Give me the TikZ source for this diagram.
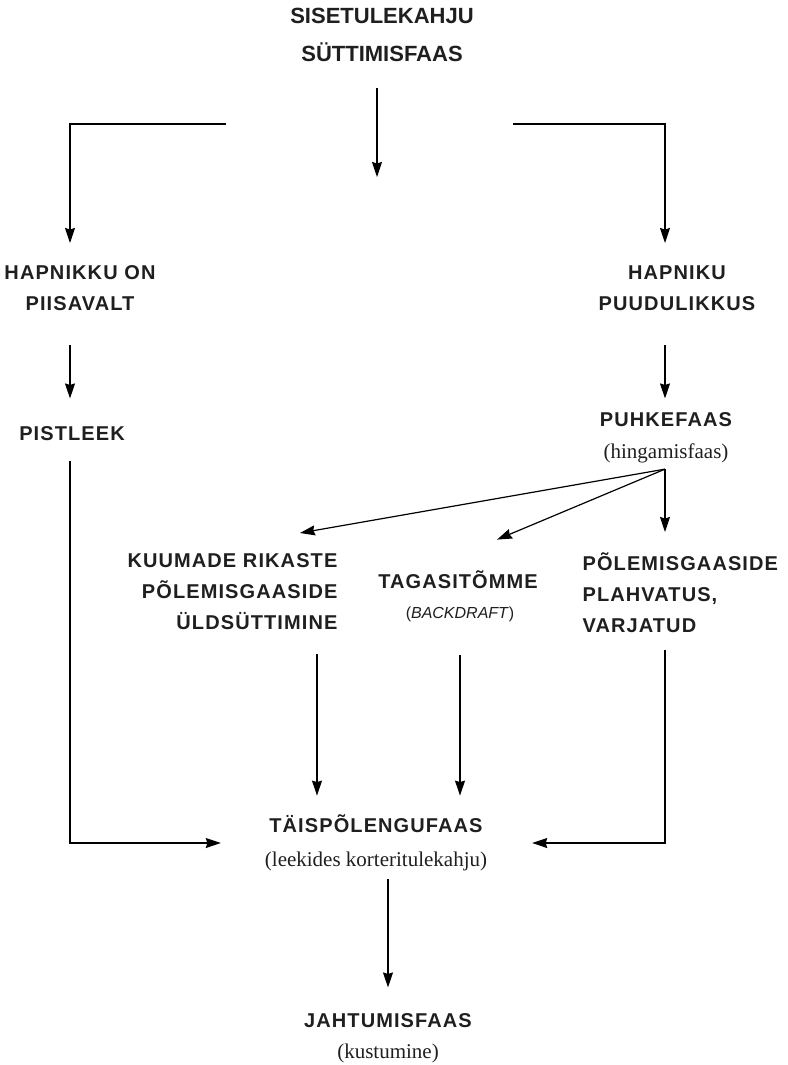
\documentclass[tikz,border=0pt]{standalone}
\usepackage{fontspec}
\setmainfont{Liberation Serif}
\setsansfont{Liberation Sans}
\usetikzlibrary{arrows.meta}

\begin{document}
\begin{tikzpicture}[x=1pt, y=-1pt, line width=1.2pt,
  >={Stealth[length=15pt, width=10pt, inset=1.5pt]},
  phase/.style={inner sep=0pt, text=black!88,
    font=\sffamily\bfseries\fontsize{20}{31}\selectfont\addfontfeature{LetterSpace=5.5}},
  toptitle/.style={inner sep=0pt, text=black!88,
    font=\sffamily\bfseries\fontsize{22}{38}\selectfont},
  note/.style={inner sep=0pt, text=black!88, font=\rmfamily\fontsize{21}{25}\selectfont}]
  \useasboundingbox (0,0) rectangle (787,1065);

  % Ignition phase and the two branches
  \node[toptitle, align=center, anchor=north] (ignite) at (382,8) {SISETULEKAHJU\\SÜTTIMISFAAS};
  \coordinate (midstop) at (377,177);
  \coordinate (splitL) at (226,124);
  \coordinate (cornerL) at (70,124);
  \coordinate (splitR) at (513,124);
  \coordinate (cornerR) at (665,124);
  \draw[->, shorten <=25pt] (ignite.south -| midstop) -- (midstop);

  \node[phase, align=center, anchor=north] (oxyok) at (80,265) {HAPNIKKU ON\\PIISAVALT};
  \node[phase, align=center, anchor=north] (oxylow) at (677,265) {HAPNIKU\\PUUDULIKKUS};
  \draw[->, shorten >=22pt] (splitL) -- (cornerL) -- (cornerL |- oxyok.north);
  \draw[->, shorten >=22pt] (splitR) -- (cornerR) -- (cornerR |- oxylow.north);

  % Flashover / smouldering
  \node[phase, anchor=base] (flash) at (72,440) {PISTLEEK};
  \node[phase, anchor=base] (puhke) at (666,426) {PUHKEFAAS};
  \node[note, anchor=base] (hinga) at (666,458) {(hingamisfaas)};
  \draw[->, shorten <=34pt, shorten >=27pt] (oxyok.south -| cornerL) -- (cornerL |- flash.north);
  \draw[->, shorten <=34pt, shorten >=13pt] (oxylow.south -| cornerR) -- (cornerR |- puhke.north);

  % Three outcomes of the smouldering phase
  \node[phase, align=right, anchor=north east] (rich) at (338,553) {KUUMADE RIKASTE\\PÕLEMISGAASIDE\\ÜLDSÜTTIMINE};
  \node[phase, anchor=base] (back) at (458,588) {TAGASITÕMME};
  \node[anchor=base, inner sep=0pt, text=black!88, font=\sffamily\fontsize{16}{19}\selectfont] (bdraft) at (460,618) {(\textit{BACKDRAFT})};
  \node[phase, align=left, anchor=north west] (plahv) at (582,552) {PÕLEMISGAASIDE\\PLAHVATUS,\\VARJATUD};
  \coordinate[yshift=-6pt] (fan) at (cornerR |- hinga.south);
  \draw[->] (fan) -- ([xshift=-38pt, yshift=20pt]rich.north east);
  \draw[->] (fan) -- ([xshift=39pt, yshift=30pt]back.north);
  \draw[->, shorten >=20pt] (fan) -- (fan |- plahv.north);

  % Fully developed fire
  \node[phase, anchor=base] (full) at (376,832) {TÄISPÕLENGUFAAS};
  \node[note, anchor=base] (leek) at (376,866) {(leekides korteritulekahju)};
  \coordinate[xshift=-21pt] (richout) at (rich.south east);
  \draw[->, shorten <=24pt, shorten >=18pt] (richout) -- (richout |- full.north);
  \draw[->, shorten <=33pt, shorten >=18pt] (bdraft.south) -- (bdraft.south |- full.north);
  \draw[->, shorten <=20pt] (flash.south -| cornerL) |- ([xshift=-48pt, yshift=-11pt]full.base west);
  \draw[->, shorten <=17pt] (plahv.south -| cornerR) |- ([xshift=49pt, yshift=-11pt]full.base east);

  % Decay
  \node[phase, anchor=base] (cool) at (388,1027) {JAHTUMISFAAS};
  \node[note, anchor=base] (kust) at (388,1058) {(kustumine)};
  \draw[->, shorten <=8pt, shorten >=25pt] (leek.south -| cool) -- (cool.north);
\end{tikzpicture}
\end{document}
